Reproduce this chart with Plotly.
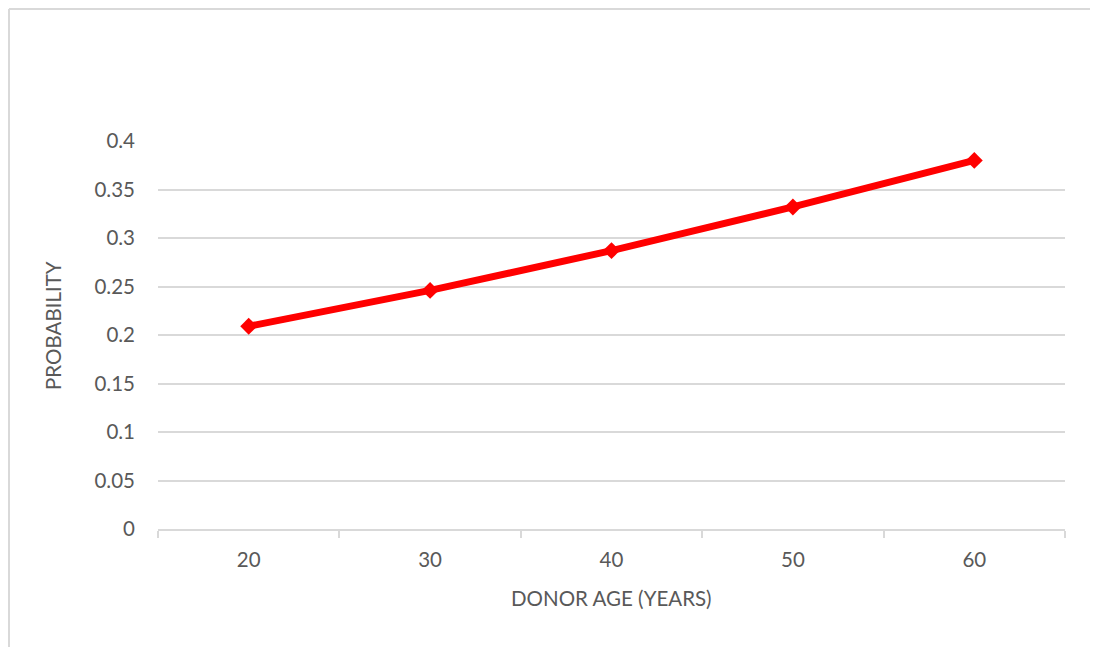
import plotly.graph_objects as go

ages = ["20", "30", "40", "50", "60"]
probability = [0.209, 0.246, 0.287, 0.332, 0.380]
y_ticks = [0, 0.05, 0.1, 0.15, 0.2, 0.25, 0.3, 0.35, 0.4]
y_tick_text = ["0", "0.05", "0.1", "0.15", "0.2", "0.25", "0.3", "0.35", "0.4"]
x_title = "DONOR AGE (YEARS)"
y_title = "PROBABILITY"

FONT = "Lato"
GRAY_TXT = "#595959"
GRID = "#d9d9d9"
FS = 20.5

fig = go.Figure()
fig.add_trace(go.Scatter(
    x=ages, y=probability, mode="lines+markers",
    line=dict(color="#ff0000", width=7),
    marker=dict(symbol="diamond", size=13, color="#ff0000"),
    showlegend=False,
))

fig.update_layout(
    width=1082, height=639,
    margin=dict(l=150, r=25, t=133, b=118),
    paper_bgcolor="white", plot_bgcolor="white",
    font=dict(family=FONT, size=FS, color=GRAY_TXT),
    xaxis=dict(
        type="category", tickson="boundaries", ticks="outside", ticklen=7,
        tickcolor=GRID, tickwidth=2, showline=True, linecolor=GRID, linewidth=2,
        showgrid=False, range=[-0.5, 4.5], ticklabelstandoff=11,
        tickfont=dict(size=FS, color=GRAY_TXT),
    ),
    yaxis=dict(
        range=[0, 0.4], tickvals=y_ticks, ticktext=y_tick_text,
        showgrid=True, gridcolor=GRID, gridwidth=2, zeroline=False,
        ticks="", ticklabelstandoff=22,
        tickfont=dict(size=FS, color=GRAY_TXT),
    ),
    annotations=[
        dict(text=x_title, xref="paper", yref="paper", x=0.5, y=-0.178,
             xanchor="center", yanchor="middle", showarrow=False,
             font=dict(size=FS, color=GRAY_TXT)),
        dict(text=y_title, xref="paper", yref="paper", x=-0.1158, y=0.5258,
             xanchor="center", yanchor="middle", textangle=-90, showarrow=False,
             font=dict(size=FS, color=GRAY_TXT)),
    ],
    shapes=[
        dict(type="line", xref="paper", yref="paper", x0=-0.1643, x1=1.1, y0=1.3402, y1=1.3402,
             line=dict(color=GRID, width=2)),
        dict(type="line", xref="paper", yref="paper", x0=-0.1643, x1=-0.1643, y0=1.3402, y1=-0.35,
             line=dict(color=GRID, width=2)),
    ],
)

fig.write_html("out.html")
